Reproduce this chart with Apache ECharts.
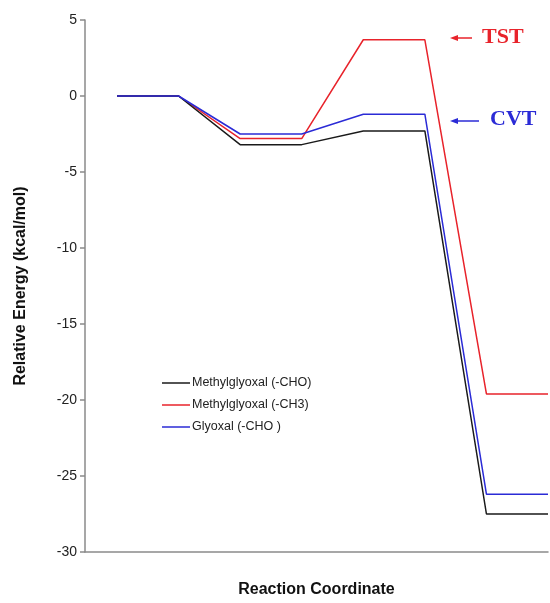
<!DOCTYPE html>
<html>
<head>
<meta charset="utf-8">
<script src="https://cdn.jsdelivr.net/npm/echarts@6/dist/echarts.min.js"></script>
<style>
  html, body { margin: 0; padding: 0; background: #fff; overflow: hidden; }
  #chart { width: 550px; height: 603px; }
</style>
</head>
<body>
<div id="chart"></div>
<script>
// Stationary points along the reaction path (index 0..7)
const steps = [0, 1, 2, 3, 4, 5, 6, 7];
const seriesNames = ['Methylglyoxal (-CHO)', 'Methylglyoxal (-CH3)', 'Glyoxal (-CHO )'];
const mgCHO = [0, 0, -3.2, -3.2, -2.3, -2.3, -27.5, -27.5];
const mgCH3 = [0, 0, -2.8, -2.8, 3.7, 3.7, -19.6, -19.6];
const glyCHO = [0, 0, -2.5, -2.5, -1.2, -1.2, -26.2, -26.2];
const yTicks = [-30, -25, -20, -15, -10, -5, 0, 5];
const colors = ['#1a1a1a', '#e8232b', '#2b2bd6'];

const pair = arr => steps.map((s, i) => [s, arr[i]]);

const chart = echarts.init(document.getElementById('chart'), null, { renderer: 'canvas' });

const lineSeries = [mgCHO, mgCH3, glyCHO].map((vals, i) => ({
  name: seriesNames[i],
  type: 'line',
  data: pair(vals),
  showSymbol: false,
  symbol: 'none',
  lineStyle: { color: colors[i], width: 1.5 },
  itemStyle: { color: colors[i] },
  z: i === 2 ? 5 : 3 - i
}));

const labelFont = 'Liberation Sans, Arial, sans-serif';

chart.setOption({
  animation: false,
  backgroundColor: '#ffffff',
  grid: { left: 85, right: 2, top: 20, bottom: 42, containLabel: false },
  xAxis: {
    type: 'value',
    min: -0.52,
    max: 7,
    axisLine: { show: true, onZero: false, lineStyle: { color: '#8a8a8a', width: 1.5 } },
    axisTick: { show: false },
    axisLabel: { show: false },
    splitLine: { show: false },
    name: 'Reaction Coordinate',
    nameLocation: 'middle',
    nameGap: 30,
    nameTextStyle: { fontFamily: labelFont, fontWeight: 'bold', fontSize: 16, color: '#111' }
  },
  yAxis: {
    type: 'value',
    min: yTicks[0],
    max: yTicks[yTicks.length - 1],
    interval: 5,
    axisLine: { show: true, onZero: false, lineStyle: { color: '#8a8a8a', width: 1.5 } },
    axisTick: { show: true, length: 5, lineStyle: { color: '#8a8a8a', width: 1.5 } },
    axisLabel: { fontFamily: labelFont, fontSize: 14, color: '#222', margin: 8 },
    splitLine: { show: false },
    name: 'Relative Energy (kcal/mol)',
    nameLocation: 'middle',
    nameGap: 56,
    nameTextStyle: { fontFamily: labelFont, fontWeight: 'bold', fontSize: 16, color: '#111' }
  },
  legend: {
    orient: 'vertical',
    left: 157,
    top: 371,
    icon: 'rect',
    itemWidth: 28,
    itemHeight: 1.5,
    itemGap: 8,
    data: seriesNames,
    textStyle: { fontFamily: labelFont, fontSize: 12.5, color: '#222', lineHeight: 14, padding: [0, 0, 0, -3] }
  },
  graphic: [
    { type: 'line', shape: { x1: 456, y1: 38, x2: 472, y2: 38 }, style: { stroke: '#e8232b', lineWidth: 1.5 } },
    { type: 'polygon', shape: { points: [[450, 38], [458, 35], [458, 41]] }, style: { fill: '#e8232b' } },
    { type: 'text', left: 482, top: 26, style: { text: 'TST', fill: '#e8232b', font: 'bold 22px "Liberation Serif", "Times New Roman", serif' } },
    { type: 'line', shape: { x1: 456, y1: 121, x2: 479, y2: 121 }, style: { stroke: '#2b2bd6', lineWidth: 1.5 } },
    { type: 'polygon', shape: { points: [[450, 121], [458, 118], [458, 124]] }, style: { fill: '#2b2bd6' } },
    { type: 'text', left: 490, top: 108, style: { text: 'CVT', fill: '#2b2bd6', font: 'bold 22px "Liberation Serif", "Times New Roman", serif' } }
  ],
  series: lineSeries
});
</script>
</body>
</html>
